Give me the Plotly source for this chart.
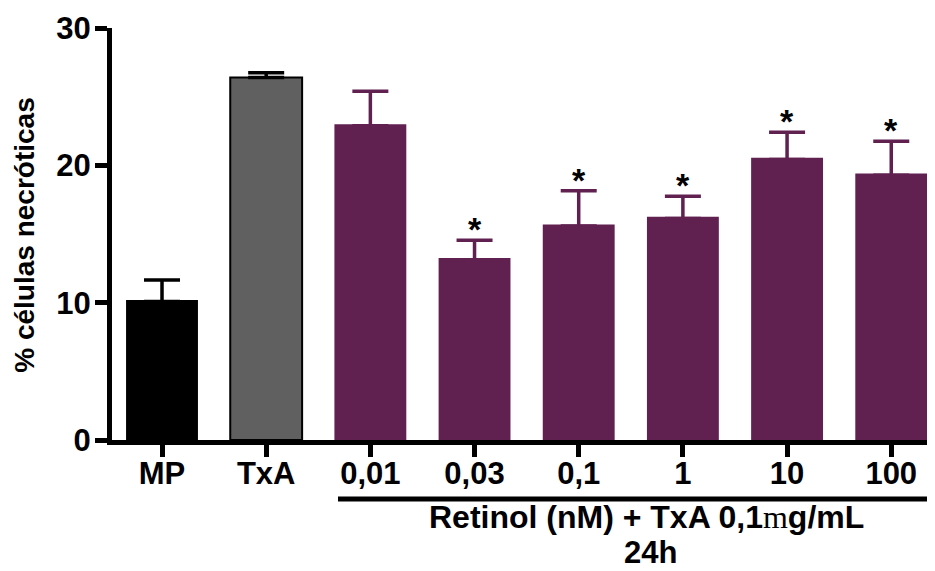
import plotly.graph_objects as go

categories = ["MP", "TxA", "0,01", "0,03", "0,1", "1", "10", "100"]
means = [10.2, 26.4, 23.0, 13.25, 15.7, 16.25, 20.55, 19.4]
sem = [1.45, 0.35, 2.4, 1.3, 2.45, 1.5, 1.85, 2.35]
significant = [False, False, False, True, True, True, True, True]
group_title = "Retinol (nM) + TxA 0,1<span style=\"font-family:'Liberation Serif';font-weight:normal\">m</span>g/mL"
time_label = "24h"
y_title = "% células necróticas"
y_ticks = [0, 10, 20, 30]

FONT = "Liberation Sans, Arial, sans-serif"
PURPLE = "#602050"
BODY_PAD = 8  # default page margin of the html body

# (indices, fill, outline, outline width, error colour, shoe hidden inside bar)
groups = [
    (range(0, 1), "#000000", "#000000", 0, "#000000", 0.12),
    (range(1, 2), "#606060", "#000000", 2, "#000000", 0.0),
    (range(2, 8), PURPLE, PURPLE, 0, PURPLE, 0.12),
]

fig = go.Figure()
for idx, fill, edge, ew, ecol, inner in groups:
    xs = [categories[i] for i in idx]
    ys = [means[i] for i in idx]
    es = [sem[i] for i in idx]
    fig.add_trace(go.Bar(
        x=xs, y=ys,
        width=0.69,
        marker=dict(color=fill, line=dict(color=edge, width=ew)),
        error_y=dict(type="data", array=es, arrayminus=[inner] * len(ys),
                     symmetric=False, color=ecol, thickness=3.5, width=18),
        hoverinfo="skip",
    ))

annotations = []
for i, (m, s, sig) in enumerate(zip(means, sem, significant)):
    if sig:
        annotations.append(dict(x=i, y=m + s, xref="x", yref="y", text="*",
                                showarrow=False, yanchor="bottom", yshift=-10,
                                font=dict(family=FONT, size=34, color="black", weight="bold")))

annotations += [
    dict(x=-0.106, y=0.4976, xref="paper", yref="paper", text=y_title, textangle=-90,
         showarrow=False, xanchor="center", yanchor="middle",
         font=dict(family=FONT, size=28, color="black", weight="bold")),
    dict(x=0.650, y=-0.187, xref="paper", yref="paper", text=group_title,
         showarrow=False, xanchor="center", yanchor="middle",
         font=dict(family=FONT, size=32, color="black", weight="bold")),
    dict(x=0.654, y=-0.274, xref="paper", yref="paper", text=time_label,
         showarrow=False, xanchor="center", yanchor="middle",
         font=dict(family=FONT, size=31, color="black", weight="bold")),
]

fig.update_layout(
    width=935 - BODY_PAD, height=571 - BODY_PAD,
    margin=dict(l=112 - BODY_PAD, r=0, t=28 - BODY_PAD, b=131, pad=0),
    paper_bgcolor="white", plot_bgcolor="white",
    barmode="overlay", showlegend=False,
    annotations=annotations,
    shapes=[dict(type="line", xref="paper", yref="paper", x0=0.2746, x1=0.9976,
                 y0=-0.143, y1=-0.143, line=dict(color="black", width=5))],
    xaxis=dict(type="category", categoryorder="array", categoryarray=categories,
               range=[-0.48, 7.42], showline=True, linecolor="black", linewidth=5,
               ticks="outside", ticklen=12, tickwidth=5, tickcolor="black",
               ticklabelstandoff=-10,
               tickfont=dict(family=FONT, size=31, color="black", weight="bold"),
               showgrid=False, zeroline=False, fixedrange=True),
    yaxis=dict(range=[0, 30], tickvals=y_ticks, showline=True, linecolor="black", linewidth=5,
               ticks="outside", ticklen=12, tickwidth=5, tickcolor="black",
               ticklabelstandoff=-2,
               tickfont=dict(family=FONT, size=31, color="black", weight="bold"),
               showgrid=False, zeroline=False, fixedrange=True),
)

fig.write_html("out.html", config={"displayModeBar": False})
